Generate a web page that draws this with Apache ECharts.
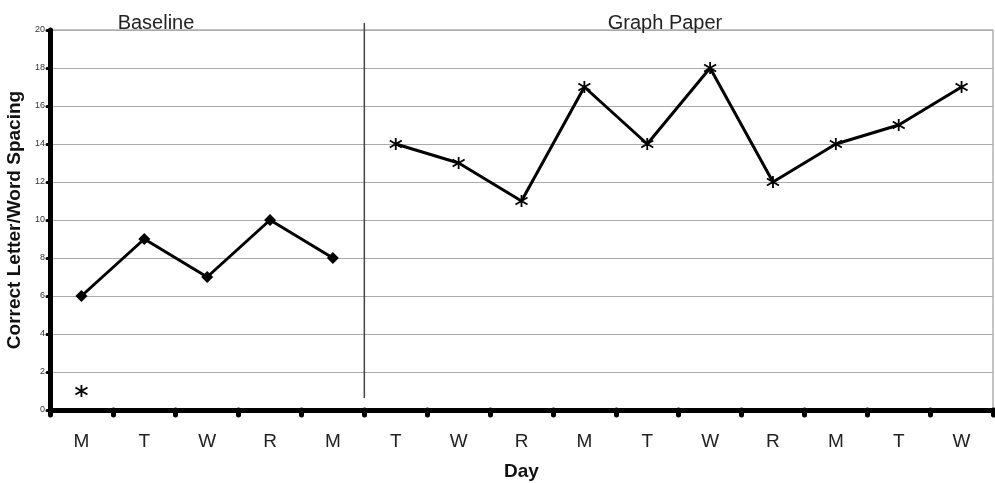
<!DOCTYPE html>
<html><head><meta charset="utf-8">
<script src="https://cdn.jsdelivr.net/npm/echarts@6/dist/echarts.min.js"></script>
<style>html,body{margin:0;padding:0;background:#fff}#c{width:995px;height:483px}</style>
</head><body><div id="c"></div>
<script>
const days = ['M','T','W','R','M','T','W','R','M','T','W','R','M','T','W'];
const baseline = [6, 9, 7, 10, 8, '-', '-', '-', '-', '-', '-', '-', '-', '-', '-'];
const graphPaper = ['-', '-', '-', '-', '-', 14, 13, 11, 17, 14, 18, 12, 14, 15, 17];
const baselineStar = [1, '-', '-', '-', '-', '-', '-', '-', '-', '-', '-', '-', '-', '-', '-'];
const phaseNames = ['Baseline', 'Graph Paper'];
const phaseChangeAt = 5;
const phaseLineSpan = [20.37, 0.63];
const yTicks = {min: 0, max: 20, interval: 2};

const star = 'path://M0,-5L0,5M-5,-3L5,3M-5,3L5,-3';
const font = 'Liberation Sans, Arial, Helvetica, sans-serif';
const chart = echarts.init(document.getElementById('c'));
chart.setOption({
  animation: false,
  textStyle: {fontFamily: font},
  grid: {left: 50, right: 2, top: 30, bottom: 73, outerBoundsMode: 'none', containLabel: false,
         show: true, borderColor: '#888', borderWidth: 1, backgroundColor: 'transparent'},
  title: [
    {text: phaseNames[0], left: 151, top: 8, textAlign: 'center', textStyle: {fontSize: 20, fontWeight: 'normal', color: '#222', fontFamily: font}},
    {text: phaseNames[1], left: 660, top: 8, textAlign: 'center', textStyle: {fontSize: 20, fontWeight: 'normal', color: '#222', fontFamily: font}}
  ],
  xAxis: [{
    type: 'category', data: days, boundaryGap: true,
    name: 'Day', nameLocation: 'middle', nameGap: 52,
    nameTextStyle: {fontSize: 19, fontWeight: 'bold', color: '#111', fontFamily: font},
    axisLine: {lineStyle: {color: '#000', width: 5}},
    axisTick: {show: true, alignWithLabel: false, length: 5, lineStyle: {color: '#000', width: 5, cap: 'round'}},
    axisLabel: {fontSize: 19, color: '#222', margin: 22, fontFamily: font},
    splitLine: {show: false}
  }, {
    type: 'value', min: 0, max: 15, show: false
  }],
  yAxis: {
    type: 'value', min: yTicks.min, max: yTicks.max, interval: yTicks.interval,
    name: 'Correct Letter/Word Spacing', nameLocation: 'middle', nameGap: 23,
    nameTextStyle: {fontSize: 19, fontWeight: 'bold', color: '#111', fontFamily: font},
    axisLine: {show: true, lineStyle: {color: '#000', width: 5}},
    axisTick: {show: true, length: 3, lineStyle: {color: '#000', width: 3, cap: 'round'}},
    axisLabel: {fontSize: 9, color: '#333', margin: 5, fontFamily: font},
    splitLine: {show: true, lineStyle: {color: '#aaa', width: 1.2}}
  },
  series: [
    {type: 'line', data: baseline, symbol: 'diamond', symbolSize: 12,
     lineStyle: {color: '#000', width: 3}, itemStyle: {color: '#000'}, connectNulls: false},
    {type: 'line', data: graphPaper, symbol: star, symbolSize: 12,
     lineStyle: {color: '#000', width: 3}, itemStyle: {color: '#000', borderColor: '#000', borderWidth: 1.8}},
    {type: 'line', data: baselineStar, symbol: star, symbolSize: 12, showSymbol: true,
     lineStyle: {width: 0}, itemStyle: {color: '#000', borderColor: '#000', borderWidth: 1.8}},
    {type: 'line', xAxisIndex: 1, clip: false, symbol: 'none',
     data: [[phaseChangeAt, phaseLineSpan[0]], [phaseChangeAt, phaseLineSpan[1]]],
     lineStyle: {color: '#444', width: 1.5}}
  ]
});
</script></body></html>
